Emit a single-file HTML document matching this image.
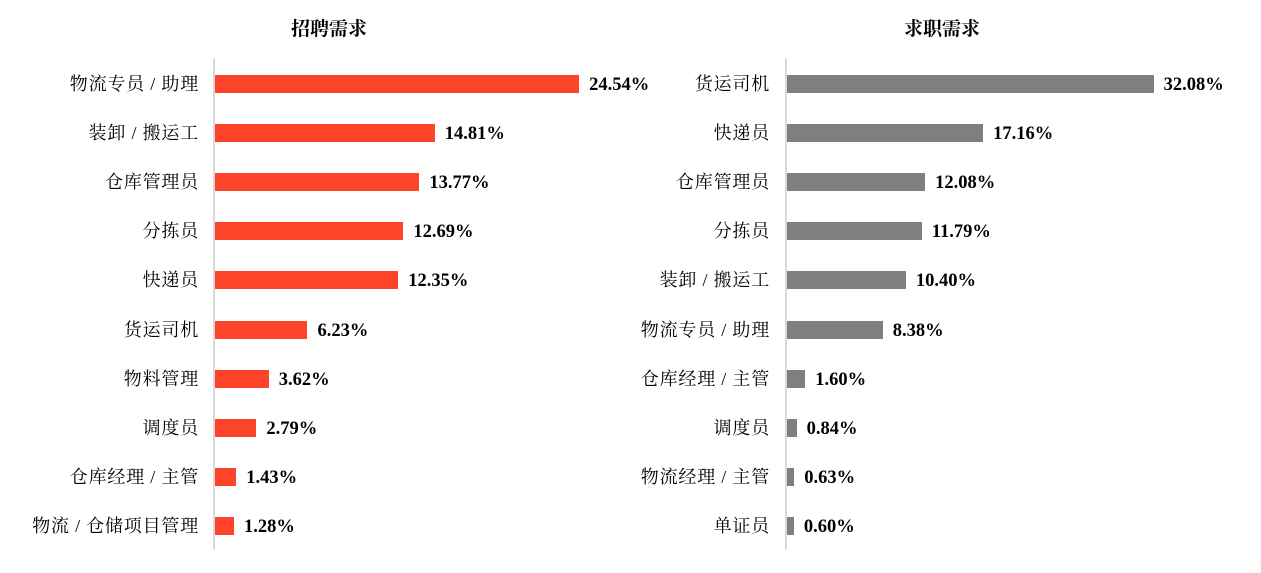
<!DOCTYPE html>
<html><head><meta charset="utf-8"><style>
html,body{margin:0;padding:0;background:#fff;}
body{width:1261px;height:573px;position:relative;overflow:hidden;}
.t{position:absolute;font-family:"Liberation Serif","Noto Serif CJK SC",serif;font-weight:bold;font-size:19px;color:#000;}
.l{position:absolute;font-family:"Liberation Serif","Noto Serif CJK SC",serif;font-size:18px;letter-spacing:0.8px;color:#000;text-align:right;width:260px;line-height:20px;}
.v{position:absolute;font-family:"Liberation Serif",serif;font-weight:bold;font-size:18.5px;color:#000;line-height:20px;}
.b{position:absolute;height:18px;}
.ax{position:absolute;width:2px;background:#d9d9d9;top:58px;height:492px;}
</style></head><body>
<div class="t" style="left:291px;top:14px;">招聘需求</div>
<div class="t" style="left:904px;top:14px;">求职需求</div>
<div class="ax" style="left:213px"></div>
<div class="ax" style="left:785px"></div>
<script>
const L=[["物流专员/助理",24.54],["装卸/搬运工",14.81],["仓库管理员",13.77],["分拣员",12.69],["快递员",12.35],["货运司机",6.23],["物料管理",3.62],["调度员",2.79],["仓库经理/主管",1.43],["物流/仓储项目管理",1.28]];
const R=[["货运司机",32.08],["快递员",17.16],["仓库管理员",12.08],["分拣员",11.79],["装卸/搬运工",10.40],["物流专员/助理",8.38],["仓库经理/主管",1.60],["调度员",0.84],["物流经理/主管",0.63],["单证员",0.60]];
let h="";
function draw(d,ax,k,col,lx){d.forEach((r,i)=>{const cy=84+i*49.1;const w=r[1]*k;
h+=`<div class="l" style="left:${lx-260}px;top:${cy-10}px">${r[0].replace('/',' / ')}</div>`;
h+=`<div class="b" style="left:${ax}px;top:${cy-9}px;width:${w}px;background:${col}"></div>`;
h+=`<div class="v" style="left:${ax+w+10}px;top:${cy-9}px">${r[1].toFixed(2)}%</div>`;});}
draw(L,215,14.84,"#fe432b",199);
draw(R,787,11.43,"#7f7f7f",770);
document.write(h);
</script>
</body></html>
